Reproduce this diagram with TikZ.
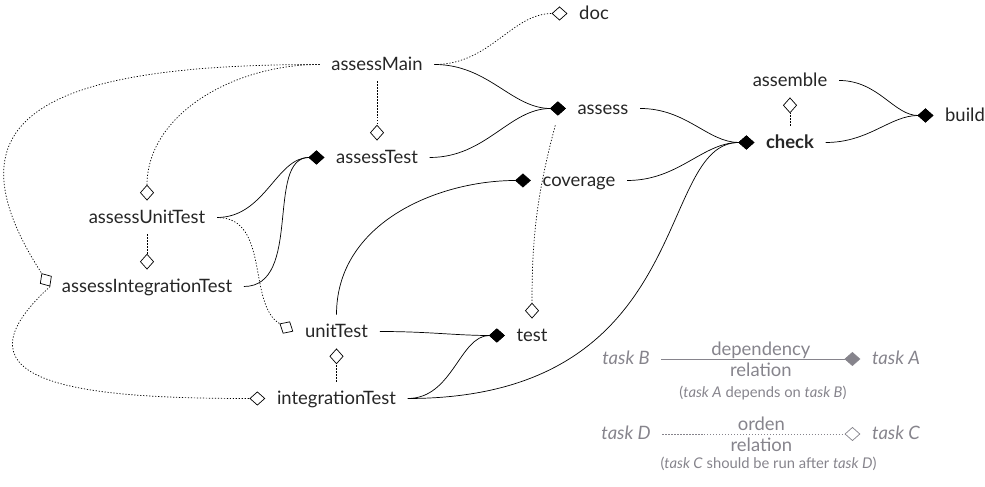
\documentclass[tikz,border=0pt]{standalone}
\usepackage{fontspec}
\setmainfont{Lato}
\usetikzlibrary{arrows.meta}

\definecolor{legendgray}{RGB}{134,132,140}

\tikzset{
  task/.style={inner xsep=6.5pt, inner ysep=5pt, text height=1.5ex, text depth=.25ex,
    font=\fontsize{10.5}{12}\selectfont, text=black!85},
  legend/.style={task, text=legendgray},
  relnote/.style={font=\fontsize{10.5}{12}\selectfont, text=legendgray, align=center, inner sep=0pt},
  smallnote/.style={font=\fontsize{8.4}{10}\selectfont, text=legendgray, inner sep=0pt},
  dep/.style={-{Diamond[length=9pt,width=8pt]}},
  ord/.style={dash pattern=on 0.7pt off 1pt, -{Diamond[open,length=9pt,width=8pt]}},
}

\begin{document}
\begin{tikzpicture}

\useasboundingbox (0,0) rectangle (19.7,9.74);

\node [task] (doc) at (11.88,9.47) {doc};
\node [task] (assessMain) at (7.54,8.45) {assessMain};
\node [task] (assess) at (12.06,7.57) {assess};
\node [task] (assemble) at (15.80,8.13) {assemble};
\node [task] (build) at (19.30,7.43) {build};
\node [task] (check) at (15.80,6.89) {\textbf{check}};
\node [task] (assessTest) at (7.54,6.59) {assessTest};
\node [task] (coverage) at (11.58,6.13) {coverage};
\node [task] (assessUnitTest) at (2.94,5.39) {assessUnitTest};
\node [task] (assessIntegrationTest) at (2.94,4.01) {assessIntegrationTest};
\node [task] (unitTest) at (6.73,3.11) {unitTest};
\node [task] (test) at (10.64,3.03) {test};
\node [task] (integrationTest) at (6.73,1.77) {integrationTest};

\draw [ord] (assessMain.east) to [out=0, in=180] (doc.west);
\draw [dep] (assessMain.east) to [out=0, in=180] (assess.west);
\draw [ord] (assessMain.south) -- (assessTest.north);
\draw [ord] (assessMain.west) to [out=180, in=90] (assessUnitTest.north);
\draw [ord] (assessMain.west) .. controls +(-5.5,0) and +(-2.2,3.4) .. (assessIntegrationTest.west);
\draw [ord] (assessUnitTest.south) -- (assessIntegrationTest.north);
\draw [ord] (assessUnitTest.east) to [out=0, in=150] (unitTest.west);
\draw [dep] (assessUnitTest.east) to [out=0, in=180] (assessTest.west);
\draw [dep] (assessIntegrationTest.east) to [out=0, in=180] (assessTest.west);
\draw [ord] (assessIntegrationTest.west) .. controls +(-2.2,-2) and +(-3.5,0) .. (integrationTest.west);
\draw [dep] (assessTest.east) to [out=0, in=180] (assess.west);
\draw [ord] ([xshift=-6pt]assess.south west) to [out=-105, in=90] (test.north);
\draw [ord] (integrationTest.north) -- (unitTest.south);
\draw [dep] (unitTest.north) to [out=90, in=180] (coverage.west);
\draw [dep] (unitTest.east) to [out=0, in=180] (test.west);
\draw [dep] (integrationTest.east) to [out=0, in=180] (test.west);
\draw [dep] (integrationTest.east) .. controls +(5.8,0) and +(-2,0) .. (check.west);
\draw [dep] (coverage.east) to [out=0, in=180] (check.west);
\draw [dep] (assess.east) to [out=0, in=180] (check.west);
\draw [ord] (check.north) -- (assemble.south);
\draw [dep] (assemble.east) to [out=0, in=180] (build.west);
\draw [dep] (check.east) to [out=0, in=180] (build.west);

\node [legend] (taskB) at (12.52,2.56) {\itshape task B};
\node [legend] (taskA) at (17.92,2.56) {\itshape task A};
\draw [dep, legendgray] (taskB) -- node [relnote] {dependency\\relation} (taskA);
\node [smallnote] (depnote) at (15.26,1.87) {(\textit{task A} depends on \textit{task B})};

\node [legend] (taskD) at (12.52,1.06) {\itshape task D};
\node [legend] (taskC) at (17.92,1.06) {\itshape task C};
\draw [ord, legendgray] (taskD) -- node [relnote] {orden\\relation} (taskC);
\node [smallnote] (ordnote) at (15.37,0.47) {(\textit{task C} should be run after \textit{task D})};

\end{tikzpicture}
\end{document}
